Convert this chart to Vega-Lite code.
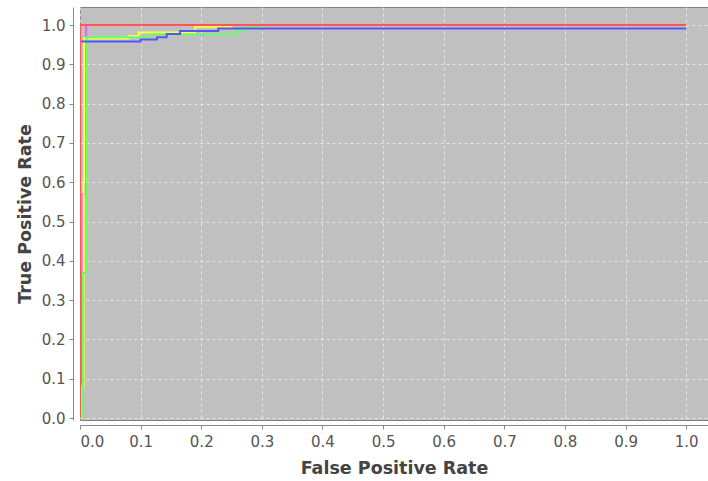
{
  "$schema": "https://vega.github.io/schema/vega-lite/v6.json",
  "autosize": {"type": "none"},
  "width": 628,
  "height": 413,
  "padding": {"left": 80, "top": 7, "right": 0, "bottom": 61},
  "background": "#ffffff",
  "config": {
    "view": {"fill": "#c0c0c0", "stroke": "#808080", "strokeWidth": 1},
    "font": "DejaVu Sans"
  },
  "data": {
    "values": [
      {"c": "magenta", "i": 0, "x": 0, "y": 0},
      {"c": "magenta", "i": 1, "x": 0.001, "y": 0.02},
      {"c": "magenta", "i": 2, "x": 0.001, "y": 0.09},
      {"c": "magenta", "i": 3, "x": 0.003, "y": 0.09},
      {"c": "magenta", "i": 4, "x": 0.003, "y": 0.37},
      {"c": "magenta", "i": 5, "x": 0.004, "y": 0.37},
      {"c": "magenta", "i": 6, "x": 0.004, "y": 0.57},
      {"c": "magenta", "i": 7, "x": 0.01, "y": 0.57},
      {"c": "magenta", "i": 8, "x": 0.01, "y": 1.0},
      {"c": "magenta", "i": 9, "x": 1.0, "y": 1.0},

      {"c": "yellow", "i": 0, "x": 0.002, "y": 0},
      {"c": "yellow", "i": 1, "x": 0.004, "y": 0},
      {"c": "yellow", "i": 2, "x": 0.004, "y": 0.08},
      {"c": "yellow", "i": 3, "x": 0.006, "y": 0.08},
      {"c": "yellow", "i": 4, "x": 0.006, "y": 0.6},
      {"c": "yellow", "i": 5, "x": 0.007, "y": 0.6},
      {"c": "yellow", "i": 6, "x": 0.007, "y": 0.966},
      {"c": "yellow", "i": 7, "x": 0.08, "y": 0.966},
      {"c": "yellow", "i": 8, "x": 0.08, "y": 0.972},
      {"c": "yellow", "i": 9, "x": 0.097, "y": 0.972},
      {"c": "yellow", "i": 10, "x": 0.097, "y": 0.981},
      {"c": "yellow", "i": 11, "x": 0.19, "y": 0.981},
      {"c": "yellow", "i": 12, "x": 0.19, "y": 0.996},
      {"c": "yellow", "i": 13, "x": 0.25, "y": 0.996},
      {"c": "yellow", "i": 14, "x": 0.25, "y": 1.0},
      {"c": "yellow", "i": 15, "x": 1.0, "y": 1.0},

      {"c": "green", "i": 0, "x": 0.004, "y": 0},
      {"c": "green", "i": 1, "x": 0.005, "y": 0},
      {"c": "green", "i": 2, "x": 0.005, "y": 0.37},
      {"c": "green", "i": 3, "x": 0.011, "y": 0.37},
      {"c": "green", "i": 4, "x": 0.011, "y": 0.969},
      {"c": "green", "i": 5, "x": 0.112, "y": 0.969},
      {"c": "green", "i": 6, "x": 0.112, "y": 0.976},
      {"c": "green", "i": 7, "x": 0.258, "y": 0.976},
      {"c": "green", "i": 8, "x": 0.258, "y": 0.987},
      {"c": "green", "i": 9, "x": 0.275, "y": 0.987},
      {"c": "green", "i": 10, "x": 0.275, "y": 0.994},
      {"c": "green", "i": 11, "x": 0.3, "y": 0.994},
      {"c": "green", "i": 12, "x": 0.3, "y": 1.0},
      {"c": "green", "i": 13, "x": 1.0, "y": 1.0},

      {"c": "blue", "i": 0, "x": 0, "y": 0},
      {"c": "blue", "i": 1, "x": 0, "y": 0.958},
      {"c": "blue", "i": 2, "x": 0.1, "y": 0.958},
      {"c": "blue", "i": 3, "x": 0.1, "y": 0.963},
      {"c": "blue", "i": 4, "x": 0.127, "y": 0.963},
      {"c": "blue", "i": 5, "x": 0.127, "y": 0.969},
      {"c": "blue", "i": 6, "x": 0.143, "y": 0.969},
      {"c": "blue", "i": 7, "x": 0.143, "y": 0.977},
      {"c": "blue", "i": 8, "x": 0.165, "y": 0.977},
      {"c": "blue", "i": 9, "x": 0.165, "y": 0.985},
      {"c": "blue", "i": 10, "x": 0.228, "y": 0.985},
      {"c": "blue", "i": 11, "x": 0.228, "y": 0.991},
      {"c": "blue", "i": 12, "x": 1.0, "y": 0.991},

      {"c": "red", "i": 0, "x": 0, "y": 0},
      {"c": "red", "i": 1, "x": 0, "y": 1.0},
      {"c": "red", "i": 2, "x": 1.0, "y": 1.0}
    ]
  },
  "mark": {"type": "line", "strokeWidth": 2, "clip": true},
  "encoding": {
    "x": {
      "field": "x", "type": "quantitative",
      "scale": {"domain": [0, 1.036], "nice": false, "zero": false},
      "axis": {
        "title": "False Positive Rate",
        "values": [0, 0.1, 0.2, 0.3, 0.4, 0.5, 0.6, 0.7, 0.8, 0.9, 1.0],
        "format": ".1f",
        "offset": 5,
        "labelFontSize": 15, "labelColor": "#555555", "labelPadding": 5,
        "domainColor": "#888888", "tickColor": "#888888", "tickSize": 4,
        "titleFontSize": 17.5, "titleFontWeight": "bold", "titleColor": "#444444", "titlePadding": 10,
        "grid": true, "gridColor": "#ffffff", "gridDash": [3, 3], "gridOpacity": 0.6
      }
    },
    "y": {
      "field": "y", "type": "quantitative",
      "scale": {"domain": [-0.005, 1.046], "nice": false, "zero": false},
      "axis": {
        "title": "True Positive Rate",
        "values": [0, 0.1, 0.2, 0.3, 0.4, 0.5, 0.6, 0.7, 0.8, 0.9, 1.0],
        "format": ".1f",
        "offset": 7,
        "labelFontSize": 15, "labelColor": "#555555", "labelPadding": 4,
        "domainColor": "#888888", "tickColor": "#888888", "tickSize": 4,
        "titleFontSize": 17.5, "titleFontWeight": "bold", "titleColor": "#444444", "titlePadding": 7,
        "grid": true, "gridColor": "#ffffff", "gridDash": [3, 3], "gridOpacity": 0.6
      }
    },
    "color": {
      "field": "c", "type": "nominal",
      "scale": {
        "domain": ["magenta", "yellow", "green", "blue", "red"],
        "range": ["#ff55ff", "#ffff44", "#66ff66", "#5555ff", "#ff5555"]
      },
      "legend": null
    },
    "order": {"field": "i", "type": "quantitative"}
  }
}
